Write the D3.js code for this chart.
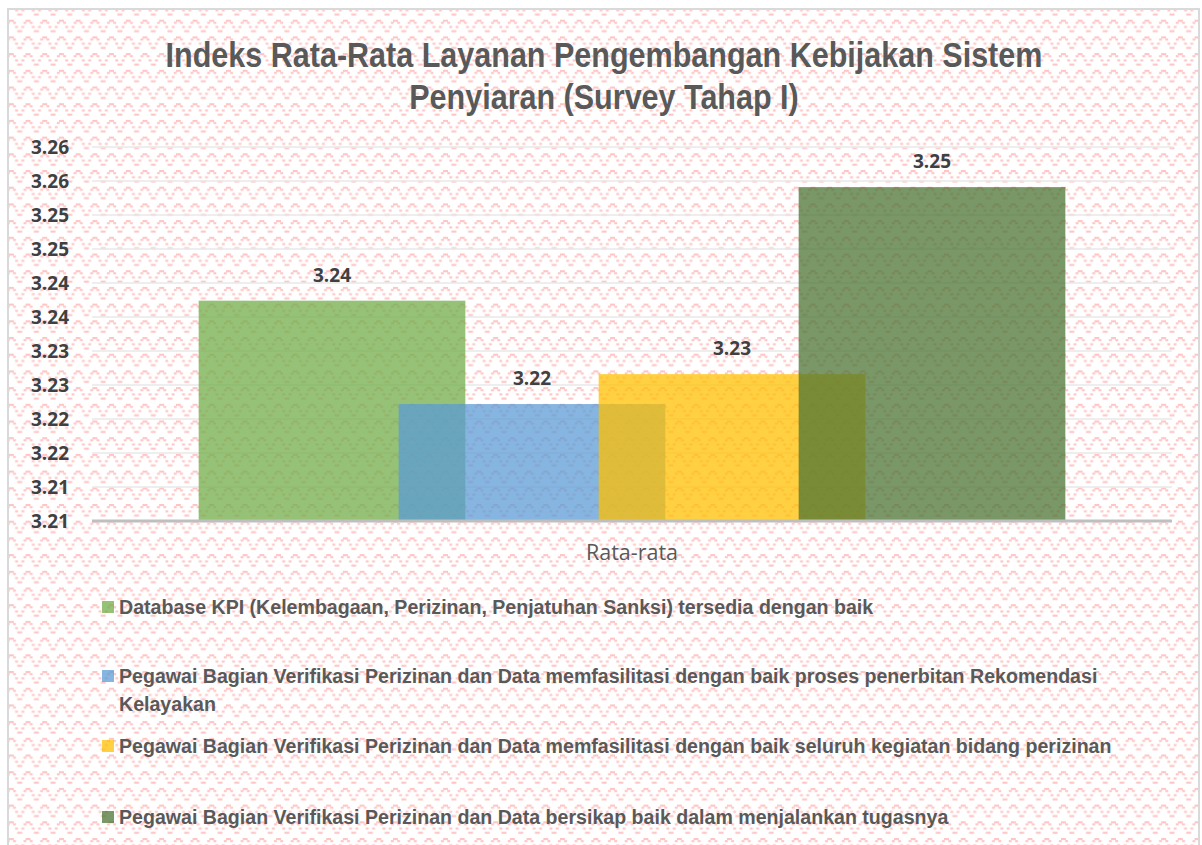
<!DOCTYPE html>
<html>
<head>
<meta charset="utf-8">
<script src="https://cdn.jsdelivr.net/npm/d3@7"></script>
<style>
html,body{margin:0;padding:0;background:#fff;}
svg{display:block;}
</style>
</head>
<body>
<svg id="chart" width="1202" height="845"></svg>
<script>
const titleLines = ["Indeks Rata-Rata Layanan Pengembangan Kebijakan Sistem", "Penyiaran (Survey Tahap I)"];
const categories = ["Rata-rata"];
const seriesNames = [
  "Database KPI (Kelembagaan, Perizinan, Penjatuhan Sanksi) tersedia dengan baik",
  "Pegawai Bagian Verifikasi Perizinan dan Data memfasilitasi dengan baik proses penerbitan Rekomendasi Kelayakan",
  "Pegawai Bagian Verifikasi Perizinan dan Data memfasilitasi dengan baik seluruh kegiatan bidang perizinan",
  "Pegawai Bagian Verifikasi Perizinan dan Data bersikap baik dalam menjalankan tugasnya"
];
const seriesValues = [3.2374, 3.2222, 3.2266, 3.2541];
const valueLabels = ["3.24", "3.22", "3.23", "3.25"];
const seriesColors = ["#70AD47", "#5B9BD5", "#FFC000", "#4a7332"];
const tickValues = [3.205, 3.21, 3.215, 3.22, 3.225, 3.23, 3.235, 3.24, 3.245, 3.25, 3.255, 3.26];
const tickLabels = ["3.21", "3.21", "3.22", "3.22", "3.23", "3.23", "3.24", "3.24", "3.25", "3.25", "3.26", "3.26"];

const svg = d3.select("#chart");
const W = 1202, H = 845;
const narrow = "'Liberation Sans Narrow', 'Arial Narrow', 'Liberation Sans', Arial, sans-serif";

// background pattern
const defs = svg.append("defs");
const cell = 16.7 / 8;
const pat = defs.append("pattern").attr("id", "bgpat").attr("patternUnits", "userSpaceOnUse")
  .attr("width", 16.7).attr("height", 16.7).attr("x", 3).attr("y", 3);
const bits = [
  "...XX...",
  "..X..X..",
  "........",
  ".X....X.",
  "........",
  "X......X",
  "........",
  "........"
];
bits.forEach((row, r) => row.split("").forEach((c, k) => {
  if (c === "X") pat.append("rect").attr("x", k * cell - 0.4).attr("y", r * cell)
    .attr("width", cell + 0.8).attr("height", cell).attr("fill", "#ffc4c4");
}));

svg.append("rect").attr("x", 0).attr("y", 0).attr("width", W).attr("height", H).attr("fill", "#fff");
svg.append("rect").attr("x", 8).attr("y", 9).attr("width", 1191).attr("height", 850)
  .attr("fill", "url(#bgpat)").attr("stroke", "#d9d9d9").attr("stroke-width", 2);

// title (horizontally condensed to mimic a narrow face)
titleLines.forEach((t, i) => {
  svg.append("text").attr("text-anchor", "middle")
    .attr("transform", `translate(604,${67 + i * 42}) scale(0.86,1)`)
    .attr("font-family", narrow)
    .attr("font-weight", "bold").attr("font-size", 35.5).attr("fill", "#595959")
    .text(t);
});

// scales
const plotLeft = 92, plotRight = 1172, plotTop = 147, plotBottom = 521;
const y = d3.scaleLinear().domain([3.205, 3.26]).range([plotBottom, plotTop]);
const xCat = d3.scaleBand().domain(categories).range([plotLeft, plotRight]);
const xSer = d3.scalePoint().domain(d3.range(seriesValues.length)).range([-300, 300]);
const barW = xSer.step() * 4 / 3;

// gridlines
svg.append("g").selectAll("line").data(tickValues.slice(1)).join("line")
  .attr("x1", plotLeft).attr("x2", plotRight)
  .attr("y1", d => y(d)).attr("y2", d => y(d))
  .attr("stroke", "#e8e8e8").attr("stroke-width", 1.5);

// y axis labels
const yAxis = d3.axisLeft(y).tickValues(tickValues).tickSize(0).tickPadding(0)
  .tickFormat((d, i) => tickLabels[i]);
const gy = svg.append("g").attr("transform", "translate(69,0)").call(yAxis);
gy.select(".domain").remove();
gy.selectAll("text").attr("font-family", "'Open Sans', sans-serif").attr("font-weight", "bold")
  .attr("font-size", 19).attr("fill", "#404040").attr("dy", "0.35em");

// bars
const cx = xCat(categories[0]) + xCat.bandwidth() / 2;
svg.append("g").selectAll("rect").data(seriesValues).join("rect")
  .attr("x", (d, i) => cx + xSer(i) - barW / 2)
  .attr("width", barW)
  .attr("y", d => y(d))
  .attr("height", d => plotBottom - y(d))
  .attr("fill", (d, i) => seriesColors[i])
  .attr("fill-opacity", 0.74);

// data labels
svg.append("g").selectAll("text").data(seriesValues).join("text")
  .attr("x", (d, i) => cx + xSer(i))
  .attr("y", d => y(d) - 19)
  .attr("text-anchor", "middle")
  .attr("font-family", "'Open Sans', sans-serif").attr("font-weight", "bold")
  .attr("font-size", 19).attr("fill", "#404040")
  .text((d, i) => valueLabels[i]);

// x axis line
svg.append("line").attr("x1", plotLeft).attr("x2", plotRight)
  .attr("y1", plotBottom).attr("y2", plotBottom)
  .attr("stroke", "#bfbfbf").attr("stroke-width", 3);

// category label
svg.append("text").attr("x", cx).attr("y", 560).attr("text-anchor", "middle")
  .attr("font-family", "'Open Sans', sans-serif").attr("font-size", 21.5).attr("fill", "#595959")
  .text(categories[0]);

// legend
const legendLines = [
  [seriesNames[0]],
  ["Pegawai Bagian Verifikasi Perizinan dan Data memfasilitasi dengan baik proses penerbitan Rekomendasi", "Kelayakan"],
  [seriesNames[2]],
  [seriesNames[3]]
];
const legendY = [607, 676, 746, 817];
const lg = svg.append("g");
legendLines.forEach((lines, i) => {
  lg.append("rect").attr("x", 102).attr("y", legendY[i] - 6).attr("width", 12).attr("height", 12)
    .attr("fill", seriesColors[i]).attr("fill-opacity", 0.74);
  lines.forEach((l, j) => {
    lg.append("text")
      .attr("transform", `translate(119,${legendY[i] + 7 + j * 28}) scale(0.933,1)`)
      .attr("font-family", narrow)
      .attr("font-weight", "bold").attr("font-size", 21).attr("fill", "#595959")
      .text(l);
  });
});
</script>
</body>
</html>
